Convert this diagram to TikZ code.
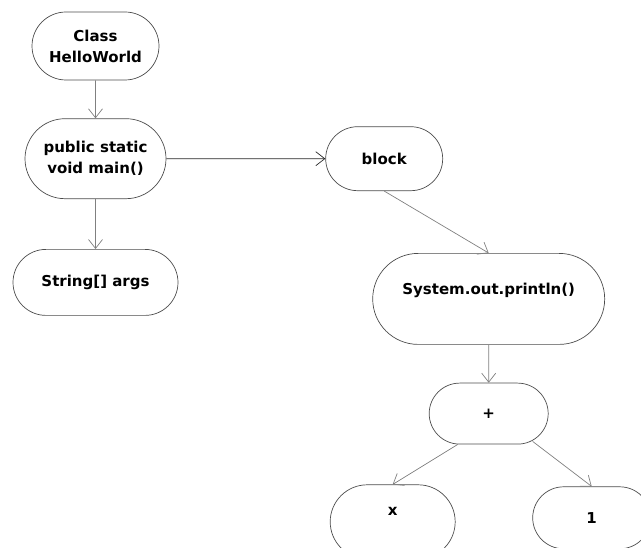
\documentclass[tikz,border=0pt]{standalone}
\usepackage{fontspec}
\setmainfont{DejaVu Sans}
\usetikzlibrary{arrows.meta,positioning,shapes.misc}

\begin{document}
\begin{tikzpicture}[
      x=1pt, y=-1pt,
      ast/.style={rounded rectangle, draw=black!70, line width=0.7pt,
      align=center, inner sep=0pt, font=\bfseries\fontsize{15}{21}\selectfont},
      link/.style={-{Straight Barb[length=9pt,width=14pt]}, draw=black!50, line width=0.7pt}]
    \useasboundingbox (0,0) rectangle (641,548);
    \node[ast, minimum width=127pt, minimum height=68pt] (cls) at (95.5,46) {Class\\HelloWorld};
    \node[ast, minimum width=141pt, minimum height=80pt, below=38pt of cls] (main) {public static\\void main()};
    \node[ast, minimum width=165pt, minimum height=66pt, below=50pt of main] (args) {String[] args};
    \node[ast, minimum width=117pt, minimum height=64pt, right=159pt of main] (blk) {block};
    \node[ast, minimum width=232pt, minimum height=91pt, below=62pt of blk, xshift=104.5pt] (sys) {System.out.println()\\\mbox{}};
    \node[ast, minimum width=119pt, minimum height=61pt, below=38pt of sys] (plus) {+};
    \node[ast, minimum width=125pt, minimum height=74pt, below=40pt of plus, xshift=-96pt] (var) {x\\\mbox{}};
    \node[ast, minimum width=118pt, minimum height=62pt, below=42pt of plus, xshift=103pt] (one) {1};
    \draw[link] (cls) -- (main);
    \draw[link] (main) -- (args);
    \draw[link, draw=black!85] (main) -- (blk);
    \draw[link] (blk.south) -- (sys.north);
    \draw[link] (sys) -- (plus);
    \draw[link] ([xshift=-31pt]plus.south) -- (var.north);
    \draw[link] ([xshift=44pt,yshift=3pt]plus.south) -- (one.north);
  \end{tikzpicture}
\end{document}
